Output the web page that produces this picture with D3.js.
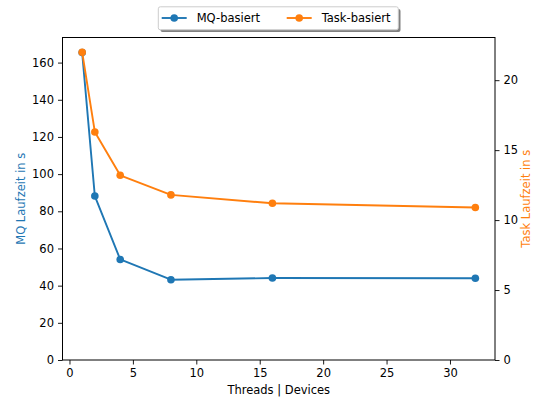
<!DOCTYPE html>
<html>
<head>
<meta charset="utf-8">
<script src="https://cdn.jsdelivr.net/npm/d3@7"></script>
<style>
  body { margin: 0; background: #fff; }
  svg { font-family: "DejaVu Sans", sans-serif; }
</style>
</head>
<body>
<svg id="chart" width="533" height="400"></svg>
<script>
// data
const threads = [1, 2, 4, 8, 16, 32];
const mqTimes = [165.4, 88.2, 54.1, 43.2, 44.1, 44.0];
const taskTimes = [22.0, 16.3, 13.2, 11.8, 11.2, 10.9];
const xTicks = [0, 5, 10, 15, 20, 25, 30];
const leftTicks = [0, 20, 40, 60, 80, 100, 120, 140, 160];
const rightTicks = [0, 5, 10, 15, 20];

const blue = "#1f77b4", orange = "#ff7f0e";
const margin = {top: 37.5, right: 38, bottom: 40, left: 62.5};
const width = 533, height = 400;

const svg = d3.select("#chart");

const x = d3.scaleLinear().domain([-0.55, 33.55]).range([margin.left, width - margin.right]);
const yL = d3.scaleLinear().domain([0, 173.5]).range([height - margin.bottom, margin.top]);
const yR = d3.scaleLinear().domain([0, 23.05]).range([height - margin.bottom, margin.top]);

const fs = "11.5px";

// axes
const xAxis = svg.append("g")
  .attr("transform", `translate(0,${height - margin.bottom})`)
  .call(d3.axisBottom(x).tickValues(xTicks).tickSize(4.5).tickPadding(4).tickSizeOuter(0));
const lAxis = svg.append("g")
  .attr("transform", `translate(${margin.left},0)`)
  .call(d3.axisLeft(yL).tickValues(leftTicks).tickSize(4.5).tickPadding(4).tickSizeOuter(0));
const rAxis = svg.append("g")
  .attr("transform", `translate(${width - margin.right},0)`)
  .call(d3.axisRight(yR).tickValues(rightTicks).tickSize(4.5).tickPadding(4).tickSizeOuter(0));

[xAxis, lAxis, rAxis].forEach(a => {
  a.select(".domain").remove();
  a.selectAll("text").style("font-size", fs).attr("fill", "#000").style("font-family", "DejaVu Sans");
  a.selectAll("line").attr("stroke", "#000").attr("stroke-width", 0.9);
});

// frame
svg.append("rect")
  .attr("x", margin.left).attr("y", margin.top)
  .attr("width", width - margin.left - margin.right)
  .attr("height", height - margin.top - margin.bottom)
  .attr("fill", "none").attr("stroke", "#000").attr("stroke-width", 1);

// series
function drawSeries(vals, y, color) {
  const line = d3.line().x((d, i) => x(threads[i])).y(d => y(d));
  svg.append("path").datum(vals)
    .attr("d", line).attr("fill", "none")
    .attr("stroke", color).attr("stroke-width", 1.9)
    .attr("stroke-linejoin", "round");
  svg.append("g").selectAll("circle").data(vals).join("circle")
    .attr("cx", (d, i) => x(threads[i])).attr("cy", d => y(d))
    .attr("r", 3.8).attr("fill", color);
}
drawSeries(mqTimes, yL, blue);
drawSeries(taskTimes, yR, orange);

// axis labels
svg.append("text")
  .attr("x", (margin.left + width - margin.right) / 2).attr("y", 394)
  .attr("text-anchor", "middle").style("font-size", fs)
  .text("Threads | Devices");
svg.append("text")
  .attr("transform", `translate(24.5,${(margin.top + height - margin.bottom) / 2}) rotate(-90)`)
  .attr("text-anchor", "middle").style("font-size", fs).attr("fill", blue)
  .text("MQ Laufzeit in s");
svg.append("text")
  .attr("transform", `translate(530,${(margin.top + height - margin.bottom) / 2}) rotate(-90)`)
  .attr("text-anchor", "middle").style("font-size", fs).attr("fill", orange)
  .text("Task Laufzeit in s");

// legend
const lg = svg.append("g");
lg.append("rect").attr("x", 160.5).attr("y", 9).attr("width", 240).attr("height", 23)
  .attr("fill", "#808080").attr("rx", 2);
lg.append("rect").attr("x", 158.3).attr("y", 6.8).attr("width", 240).attr("height", 23)
  .attr("fill", "#fff").attr("stroke", "#ccc").attr("stroke-width", 1).attr("rx", 2);
const items = [
  {label: "MQ-basiert", color: blue, x0: 161.7},
  {label: "Task-basiert", color: orange, x0: 286.7}
];
items.forEach(it => {
  lg.append("line").attr("x1", it.x0).attr("x2", it.x0 + 25).attr("y1", 18).attr("y2", 18)
    .attr("stroke", it.color).attr("stroke-width", 1.9);
  lg.append("circle").attr("cx", it.x0 + 12.5).attr("cy", 18).attr("r", 3.8).attr("fill", it.color);
  lg.append("text").attr("x", it.x0 + 35).attr("y", 22).style("font-size", fs).text(it.label);
});
</script>
</body>
</html>
